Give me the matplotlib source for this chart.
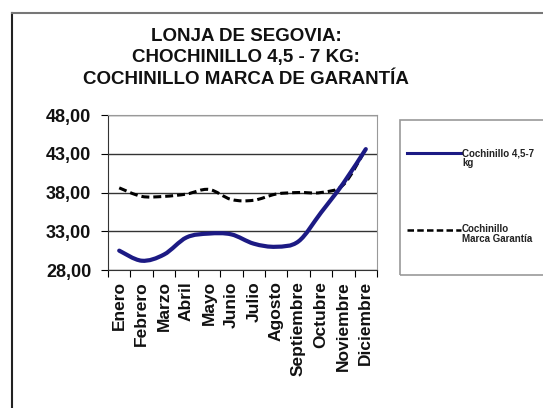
import matplotlib
matplotlib.use("Agg")
import matplotlib.pyplot as plt
import numpy as np
from matplotlib.path import Path
from matplotlib.patches import PathPatch, Rectangle
from matplotlib.lines import Line2D

plt.rcParams['font.family'] = ['Liberation Sans', 'DejaVu Sans']

meses = ["Enero", "Febrero", "Marzo", "Abril", "Mayo", "Junio", "Julio",
         "Agosto", "Septiembre", "Octubre", "Noviembre", "Diciembre"]
cochinillo = [30.5, 29.2, 30.0, 32.2, 32.7, 32.6, 31.4, 31.0, 31.7, 35.4, 39.2, 43.6]
garantia = [38.6, 37.5, 37.5, 37.8, 38.4, 37.1, 37.0, 37.8, 38.0, 38.0, 39.0, 43.6]
yticks = [28, 33, 38, 43, 48]
titulo = "LONJA DE SEGOVIA:\nCHOCHINILLO 4,5 - 7 KG:\nCOCHINILLO MARCA DE GARANTÍA"
etiquetas = ["Cochinillo 4,5-7\nkg", "Cochinillo\nMarca Garantía"]


def smooth_path(xs, ys):
    # Catmull-Rom -> bezier, like Excel smoothed lines
    pts = np.column_stack([xs, ys]).astype(float)
    n = len(pts)
    verts = [pts[0]]
    codes = [Path.MOVETO]
    for i in range(n - 1):
        p0 = pts[max(i - 1, 0)]
        p1 = pts[i]
        p2 = pts[i + 1]
        p3 = pts[min(i + 2, n - 1)]
        c1 = p1 + (p2 - p0) / 6.0
        c2 = p2 - (p3 - p1) / 6.0
        verts += [c1, c2, p2]
        codes += [Path.CURVE4] * 3
    return Path(verts, codes)


fig = plt.figure(figsize=(5.43, 4.08), dpi=100)
ax = fig.add_axes([0.1989, 0.3382, 0.4954, 0.3799])

x = np.arange(len(meses))
ax.add_patch(PathPatch(smooth_path(x, garantia), fill=False, color='black',
                       lw=2.2, linestyle=(0, (2.6, 1.3)), zorder=3))
ax.add_patch(PathPatch(smooth_path(x, cochinillo), fill=False, color='#1c1a84',
                       lw=3.0, capstyle='round', joinstyle='round', zorder=4))

ax.set_xlim(-0.5, len(meses) - 0.5)
ax.set_ylim(28, 48)
ax.set_yticks(yticks)
ax.set_yticklabels([("%.2f" % v).replace('.', ',') for v in yticks],
                   fontsize=13, fontweight='bold', color='#111111')
ax.tick_params(axis='y', length=5, width=0.8, pad=7)

ax.set_xticks(x)
ax.set_xticklabels(meses, rotation=90, fontsize=12.5, fontweight='bold', va='top',
                   color='#111111')
ax.set_xticks(np.arange(len(meses) + 1) - 0.5, minor=True)
ax.tick_params(axis='x', which='major', length=0, pad=8)
ax.tick_params(axis='x', which='minor', length=5, width=0.8)

ax.grid(axis='y', color='#333333', lw=1.0)
ax.set_axisbelow(True)
for s in ['top', 'right']:
    ax.spines[s].set_color('#999999')
for s in ['left', 'bottom']:
    ax.spines[s].set_color('#333333')

fig.text(246 / 543, 1 - 28 / 408, titulo, ha='center', va='top', fontsize=13.5,
         fontweight='bold', linespacing=1.33, color='#111111')

# outer chart frame
fig.add_artist(Line2D([12 / 543, 12 / 543], [0, 1 - 13 / 408], color='#222222', lw=1.5))
fig.add_artist(Line2D([12 / 543, 1], [1 - 13 / 408, 1 - 13 / 408], color='#777777', lw=1.5))

# legend box
fig.add_artist(Rectangle((400 / 543, 1 - 275 / 408), 150 / 543, 155 / 408,
                         fill=False, edgecolor='#999999', lw=1.2))
fig.add_artist(Line2D([407 / 543, 461 / 543], [1 - 153 / 408] * 2, color='#1c1a84', lw=2.2))
fig.add_artist(Line2D([407 / 543, 461 / 543], [1 - 230 / 408] * 2, color='black', lw=1.8,
                      linestyle=(0, (2.6, 1.3))))
fig.text(462 / 543, 1 - 148 / 408, etiquetas[0], fontsize=7, va='top', ha='left',
         linespacing=1.0, fontweight='bold', color='#222222')
fig.text(462 / 543, 1 - 224 / 408, etiquetas[1], fontsize=7, va='top', ha='left',
         linespacing=1.0, fontweight='bold', color='#222222')

fig.savefig("out.png", dpi=100)
